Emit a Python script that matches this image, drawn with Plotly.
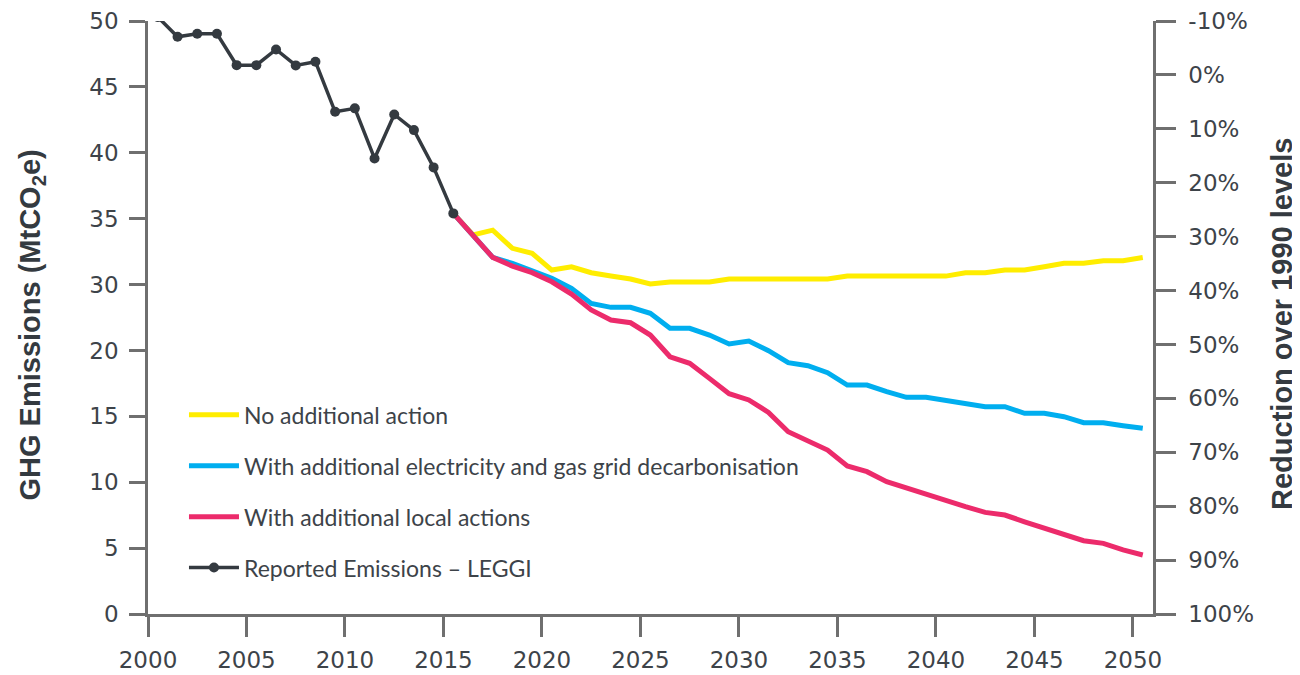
import plotly.graph_objects as go

# ---- data (MtCO2e, true axis units) ----
reported_years = list(range(2000, 2016))
reported = [45.3, 43.80, 44.03, 44.03, 41.65, 41.65, 42.84, 41.63, 41.91,
            38.11, 38.37, 34.57, 37.91, 36.72, 33.89, 30.40]

scenario_years = list(range(2015, 2051))
no_action = [30.40, 28.76, 29.13, 27.75, 27.37, 26.10, 26.35, 25.90, 25.65, 25.42,
             25.04, 25.19, 25.19, 25.19, 25.42, 25.42, 25.42, 25.42, 25.42, 25.42,
             25.64, 25.64, 25.64, 25.64, 25.64, 25.64, 25.90, 25.90, 26.10, 26.10,
             26.35, 26.61, 26.61, 26.81, 26.81, 27.06]
grid_decarb = [30.40, 28.70, 27.06, 26.61, 26.05, 25.47, 24.71, 23.57, 23.27, 23.27,
               22.82, 21.68, 21.68, 21.17, 20.49, 20.71, 19.98, 19.07, 18.84, 18.31,
               17.37, 17.37, 16.87, 16.44, 16.44, 16.18, 15.93, 15.73, 15.73, 15.23,
               15.23, 14.97, 14.52, 14.52, 14.29, 14.09]
local_actions = [30.40, 28.68, 27.06, 26.40, 25.90, 25.21, 24.28, 23.07, 22.31, 22.10,
                 21.17, 19.52, 19.02, 17.88, 16.72, 16.24, 15.30, 13.83, 13.13, 12.44,
                 11.23, 10.80, 10.04, 9.54, 9.08, 8.60, 8.14, 7.71, 7.51, 7.00,
                 6.55, 6.05, 5.56, 5.36, 4.86, 4.48]

series_names = ["No additional action",
                "With additional electricity and gas grid decarbonisation",
                "With additional local actions",
                "Reported Emissions \u2013 LEGGI"]

left_title = "<b>GHG Emissions (MtCO<sub>2</sub>e)</b>"
right_title = "<b>Reduction over 1990 levels</b>"

# tick labels
x_tick_years = list(range(2000, 2051, 5))
y_tick_vals = [0, 5, 10, 15, 20, 25, 30, 35, 40, 45]
y_tick_text = ["0", "5", "10", "15", "20", "30", "35", "40", "45", "50"]
pct_tick_vals = list(range(-10, 101, 10))
pct_tick_text = [f"{v}%" for v in pct_tick_vals]

# ---- style ----
YELLOW = "#FFED00"
BLUE = "#00AEEF"
PINK = "#EC2B6B"
DARK = "#343A40"
AXIS = "#6F6F6F"
TXT = "#3D4349"
TICK_FONT = dict(family="DejaVu Sans", size=23, color=TXT)
TITLE_FONT = dict(family="Liberation Sans", size=29, color=DARK)

fig = go.Figure()
fig.add_trace(go.Scatter(x=scenario_years, y=no_action, name=series_names[0],
                         mode="lines", line=dict(color=YELLOW, width=5),
                         legendgroup="a"))
fig.add_trace(go.Scatter(x=scenario_years, y=grid_decarb, name=series_names[1],
                         mode="lines", line=dict(color=BLUE, width=5),
                         legendgroup="b"))
fig.add_trace(go.Scatter(x=scenario_years, y=local_actions, name=series_names[2],
                         mode="lines", line=dict(color=PINK, width=5),
                         legendgroup="c"))
fig.add_trace(go.Scatter(x=reported_years, y=reported, name=series_names[3],
                         mode="lines+markers", line=dict(color=DARK, width=3.5),
                         marker=dict(color=DARK, size=10), legendgroup="d"))
# carrier trace for the right-hand axis
fig.add_trace(go.Scatter(x=[2000], y=[None], yaxis="y2", showlegend=False,
                         hoverinfo="skip"))

# the page body adds an 8px offset, so the figure is sized to fit the window
fig.update_layout(
    width=1292, height=667,
    margin=dict(l=140, r=147, t=13, b=61),
    paper_bgcolor="white", plot_bgcolor="white",
    showlegend=True,
    legend=dict(x=0.0358, y=0.372, xanchor="left", yanchor="top",
                font=dict(family="Lato", size=23, color=TXT),
                traceorder="grouped", tracegroupgap=18, itemwidth=50,
                bgcolor="rgba(0,0,0,0)"),
    xaxis=dict(range=[1999.5, 2050.52], showgrid=False, zeroline=False,
               automargin=False, ticklabeloverflow="allow",
               showline=True, linecolor=AXIS, linewidth=2.5,
               ticks="outside", ticklen=20, tickwidth=2.5, tickcolor=AXIS,
               tickvals=[y - 0.5 for y in x_tick_years],
               ticktext=[str(y) for y in x_tick_years],
               tickfont=TICK_FONT, ticklabelstandoff=4),
    yaxis=dict(range=[0, 45], showgrid=False, zeroline=False,
               automargin=False, ticklabeloverflow="allow",
               showline=True, linecolor=AXIS, linewidth=2.5,
               ticks="outside", ticklen=16, tickwidth=2.5, tickcolor=AXIS,
               tickvals=y_tick_vals, ticktext=y_tick_text,
               tickfont=TICK_FONT, ticklabelstandoff=6),
    yaxis2=dict(range=[100, -10], overlaying="y", side="right", anchor="x",
                automargin=False, ticklabeloverflow="allow",
                showgrid=False, zeroline=False,
                showline=True, linecolor=AXIS, linewidth=2.5,
                ticks="outside", ticklen=20, tickwidth=2.5, tickcolor=AXIS,
                tickvals=pct_tick_vals, ticktext=pct_tick_text,
                tickfont=TICK_FONT, ticklabelstandoff=8),
    annotations=[
        dict(text=left_title, xref="paper", yref="paper", x=-0.1164, y=0.4865,
             xanchor="center", yanchor="middle", textangle=-90,
             showarrow=False, font=TITLE_FONT),
        dict(text=right_title, xref="paper", yref="paper", x=1.1283, y=0.489,
             xanchor="center", yanchor="middle", textangle=-90,
             showarrow=False, font=TITLE_FONT),
    ],
)

fig.write_html("out.html")
